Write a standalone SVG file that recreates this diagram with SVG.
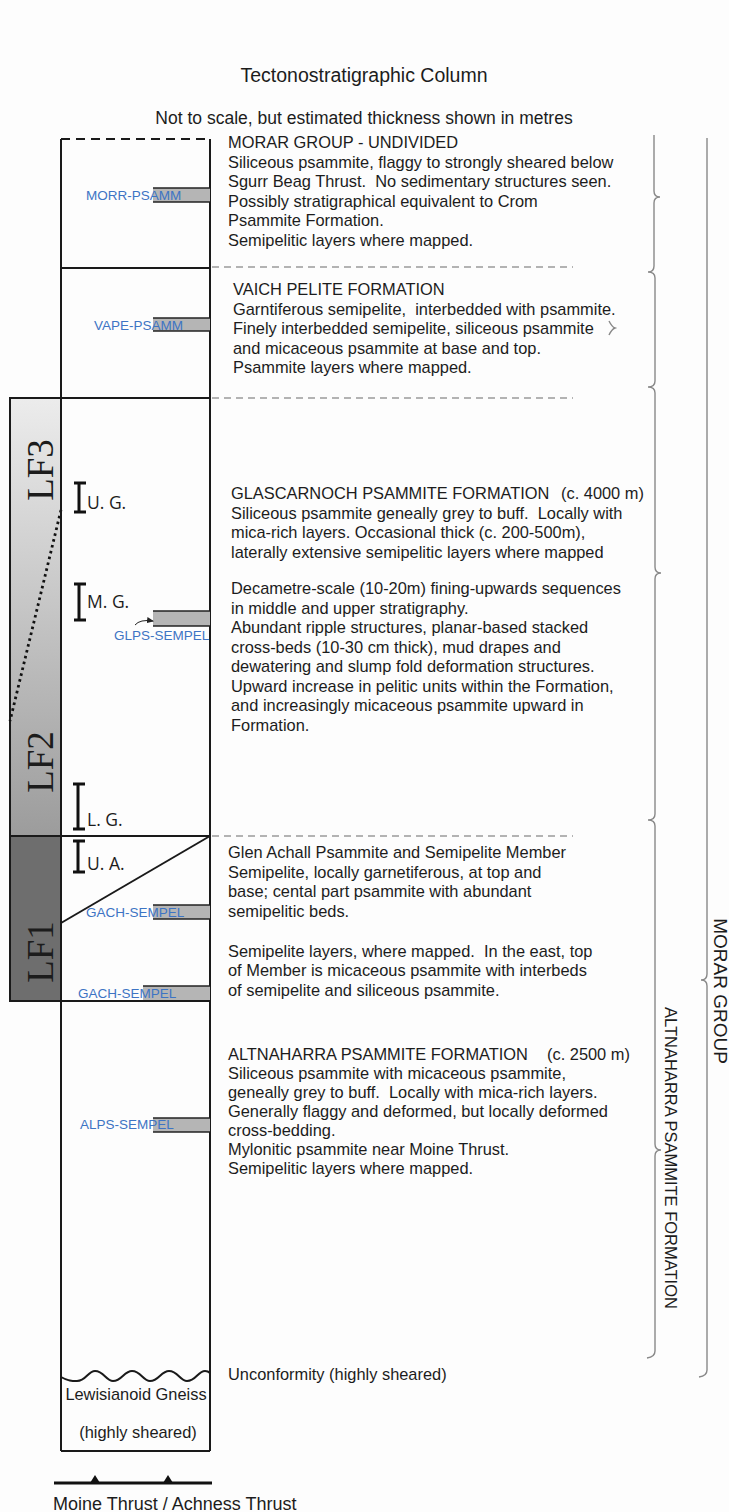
<svg xmlns="http://www.w3.org/2000/svg" width="729" height="1512" viewBox="0 0 729 1512">
<defs>
<linearGradient id="lfg" x1="0" y1="0" x2="0" y2="1">
<stop offset="0" stop-color="#ececec"/>
<stop offset="1" stop-color="#9c9c9c"/>
</linearGradient>
<marker id="ah" markerWidth="8" markerHeight="8" refX="6" refY="4" orient="auto" markerUnits="userSpaceOnUse">
<path d="M0,1 L7,4 L0,7 Z" fill="#222"/>
</marker>
</defs>
<style>
text{font-family:"Liberation Sans",Arial,sans-serif;fill:#1c1c1c}
.body{font-size:16.4px}
.lbl{font-size:13.5px;fill:#3d74c4}
.lf{font-family:"Liberation Serif","Times New Roman",serif;font-size:37px;fill:#1c1c1c}
.ib{font-family:"Open Sans","Noto Sans",sans-serif;font-size:17.5px;fill:#1c1c1c}
.col{stroke:#1a1a1a;stroke-width:2;fill:none}
.gd{stroke:#9a9a9a;stroke-width:1.3;stroke-dasharray:7,5;fill:none}
.bar{fill:#b5b5b5}
.barl{stroke:#222;stroke-width:1.6}
.brace{stroke:#888;stroke-width:1.4;fill:none}
.ibar{stroke:#111;stroke-width:3;fill:none}
</style>
<rect width="729" height="1512" fill="#fdfdfd"/>

<g id="title">
<text x="364" y="82" text-anchor="middle" style="font-size:19.5px">Tectonostratigraphic Column</text>
<text x="364" y="124" text-anchor="middle" style="font-size:17.5px">Not to scale, but estimated thickness shown in metres</text>
</g>

<g id="lf-column">
<rect x="10" y="398" width="51" height="438" fill="url(#lfg)" stroke="#1a1a1a" stroke-width="2"/>
<rect x="10" y="836" width="51" height="165" fill="#6e6e6e" stroke="#1a1a1a" stroke-width="2"/>
<line x1="61" y1="510" x2="10" y2="721" stroke="#111" stroke-width="2.8" stroke-dasharray="2.6,3.4"/>
<text class="lf" transform="translate(53,470) rotate(-90)" text-anchor="middle">LF3</text>
<text class="lf" transform="translate(53,762) rotate(-90)" text-anchor="middle">LF2</text>
<text class="lf" transform="translate(53,952) rotate(-90)" text-anchor="middle">LF1</text>
</g>

<g id="column">
<line x1="61" y1="139" x2="210" y2="139" stroke="#1a1a1a" stroke-width="2" stroke-dasharray="9,6"/>
<line class="col" x1="61" y1="139" x2="61" y2="1451"/>
<line class="col" x1="210" y1="139" x2="210" y2="1451"/>
<line class="col" x1="61" y1="268" x2="210" y2="268"/>
<line class="col" x1="61" y1="398" x2="210" y2="398"/>
<line class="col" x1="61" y1="836" x2="210" y2="836"/>
<line class="col" x1="210" y1="836" x2="61" y2="923"/>
<line class="col" x1="61" y1="1001" x2="210" y2="1001"/>
<line class="col" x1="61" y1="1451" x2="210" y2="1451"/>
<path class="col" stroke-width="1.5" d="M61,1377 C68,1381 72,1381 77,1381 C86,1381 88,1371 95,1371 C104,1371 106,1381 113,1381 C122,1381 124,1371 132,1371 C141,1371 143,1381 150,1381 C159,1381 161,1371 169,1371 C178,1371 180,1381 187,1381 C196,1381 198,1371 205,1371 C207,1371 209,1372 210,1373"/>
<text x="136" y="1400" text-anchor="middle" class="body">Lewisianoid Gneiss</text>
<text x="138" y="1438" text-anchor="middle" class="body">(highly sheared)</text>
</g>

<g id="thrust">
<line x1="54" y1="1483" x2="212" y2="1483" stroke="#111" stroke-width="3"/>
<path d="M90,1483 L95,1475 L100,1483 Z M163,1483 L168,1475 L173,1483 Z" fill="#111"/>
<text x="53" y="1510" style="font-size:18px">Moine Thrust / Achness Thrust</text>
</g>

<g id="ibars">
<path class="ibar" d="M74,483 H86 M79,483 V512 M74,512 H86"/>
<text class="ib" x="87" y="509">U. G.</text>
<path class="ibar" d="M74,584 H86 M79,584 V620 M74,620 H86"/>
<text class="ib" x="87" y="608">M. G.</text>
<path class="ibar" d="M73,784 H85 M78,784 V829 M73,829 H85"/>
<text class="ib" x="87" y="826">L. G.</text>
<path class="ibar" d="M73,841 H85 M78,841 V872 M73,872 H85"/>
<text class="ib" x="87" y="870">U. A.</text>
</g>

<g id="samples">
<g id="morr">
<rect class="bar" x="153" y="188" width="57" height="14"/>
<line class="barl" x1="153" y1="188" x2="210" y2="188"/><line class="barl" x1="153" y1="202" x2="210" y2="202"/>
<text class="lbl" x="86" y="200">MORR-PSAMM</text>
</g>
<g id="vape">
<rect class="bar" x="153" y="318" width="57" height="13"/>
<line class="barl" x1="153" y1="318" x2="210" y2="318"/><line class="barl" x1="153" y1="331" x2="210" y2="331"/>
<text class="lbl" x="94" y="330">VAPE-PSAMM</text>
</g>
<g id="glps">
<rect class="bar" x="153" y="611" width="57" height="15"/>
<line class="barl" x1="153" y1="611" x2="210" y2="611"/><line class="barl" x1="153" y1="626" x2="210" y2="626"/>
<text class="lbl" x="114" y="640">GLPS-SEMPEL</text>
</g>
<g id="gach1">
<rect class="bar" x="153" y="905" width="57" height="14"/>
<line class="barl" x1="153" y1="905" x2="210" y2="905"/><line class="barl" x1="153" y1="919" x2="210" y2="919"/>
<text class="lbl" x="86" y="917">GACH-SEMPEL</text>
</g>
<g id="gach2">
<rect class="bar" x="143" y="986" width="67" height="14"/>
<line class="barl" x1="143" y1="986" x2="210" y2="986"/>
<text class="lbl" x="78" y="998">GACH-SEMPEL</text>
</g>
<g id="alps">
<rect class="bar" x="153" y="1118" width="57" height="14"/>
<line class="barl" x1="153" y1="1118" x2="210" y2="1118"/><line class="barl" x1="153" y1="1132" x2="210" y2="1132"/>
<text class="lbl" x="80" y="1129">ALPS-SEMPEL</text>
</g>
</g>

<g id="connectors">
<path d="M135,625 Q140,619 153,621" fill="none" stroke="#222" stroke-width="1" marker-end="url(#ah)"/>
<line class="gd" x1="212" y1="267" x2="573" y2="267"/>
<line class="gd" x1="212" y1="398" x2="573" y2="398"/>
<line class="gd" x1="212" y1="836" x2="573" y2="836"/>
</g>

<g id="morar-text" class="body">
<text x="228" y="148">MORAR GROUP - UNDIVIDED</text>
<text x="228" y="167.5">Siliceous psammite, flaggy to strongly sheared below</text>
<text x="228" y="187" xml:space="preserve">Sgurr Beag Thrust.  No sedimentary structures seen.</text>
<text x="228" y="206.5">Possibly stratigraphical equivalent to Crom</text>
<text x="228" y="226">Psammite Formation.</text>
<text x="228" y="245.5">Semipelitic layers where mapped.</text>
</g>

<g id="vaich-text" class="body">
<text x="233" y="295">VAICH PELITE FORMATION</text>
<text x="233" y="314.5" xml:space="preserve">Garntiferous semipelite,  interbedded with psammite.</text>
<text x="233" y="334">Finely interbedded semipelite, siliceous psammite</text>
<text x="233" y="353.5">and micaceous psammite at base and top.</text>
<text x="233" y="373">Psammite layers where mapped.</text>
</g>

<g id="glascarnoch-text" class="body">
<text x="231" y="499">GLASCARNOCH PSAMMITE FORMATION<tspan x="561">(c. 4000 m)</tspan></text>
<text x="231" y="518.5" xml:space="preserve">Siliceous psammite geneally grey to buff.  Locally with</text>
<text x="231" y="538">mica-rich layers. Occasional thick (c. 200-500m),</text>
<text x="231" y="557.5">laterally extensive semipelitic layers where mapped</text>
<text x="231" y="594">Decametre-scale (10-20m) fining-upwards sequences</text>
<text x="231" y="613.5">in middle and upper stratigraphy.</text>
<text x="231" y="633">Abundant ripple structures, planar-based stacked</text>
<text x="231" y="652.5">cross-beds (10-30 cm thick), mud drapes and</text>
<text x="231" y="672">dewatering and slump fold deformation structures.</text>
<text x="231" y="691.5">Upward increase in pelitic units within the Formation,</text>
<text x="231" y="711">and increasingly micaceous psammite upward in</text>
<text x="231" y="730.5">Formation.</text>
</g>

<g id="glenachall-text" class="body">
<text x="228" y="858">Glen Achall Psammite and Semipelite Member</text>
<text x="228" y="877.5">Semipelite, locally garnetiferous, at top and</text>
<text x="228" y="897">base; cental part psammite with abundant</text>
<text x="228" y="916.5">semipelitic beds.</text>
<text x="228" y="956.5" xml:space="preserve">Semipelite layers, where mapped.  In the east, top</text>
<text x="228" y="976">of Member is micaceous psammite with interbeds</text>
<text x="228" y="995.5">of semipelite and siliceous psammite.</text>
</g>

<g id="altnaharra-text" class="body">
<text x="228" y="1060">ALTNAHARRA PSAMMITE FORMATION<tspan x="547">(c. 2500 m)</tspan></text>
<text x="228" y="1079">Siliceous psammite with micaceous psammite,</text>
<text x="228" y="1098" xml:space="preserve">geneally grey to buff.  Locally with mica-rich layers.</text>
<text x="228" y="1117">Generally flaggy and deformed, but locally deformed</text>
<text x="228" y="1136">cross-bedding.</text>
<text x="228" y="1155">Mylonitic psammite near Moine Thrust.</text>
<text x="228" y="1174">Semipelitic layers where mapped.</text>
<text x="228" y="1380">Unconformity (highly sheared)</text>
</g>

<g id="braces">
<path class="brace" d="M654,135 V191 Q654,197 660,197 Q654,197 654,203 V266 Q654,272 648,272 Q655,272 655,278 V381 Q655,387 648,387 Q655,387 655,393 V567 Q655,573 661,573 Q655,573 655,579 V814 Q655,820 648,820 Q655,820 655,826 V1144 Q655,1150 661,1150 Q655,1150 655,1156 V1351 Q655,1357 647,1358"/>
<path class="brace" d="M609,321 Q612,327 615,328 Q612,329 609,335"/>
<path class="brace" d="M707,138 V974 Q707,980 701,980 Q707,980 707,986 V1370 Q707,1376 699,1377"/>
<text transform="translate(665,1007) rotate(90)" style="font-size:16.5px">ALTNAHARRA PSAMMITE FORMATION</text>
<text transform="translate(714,991) rotate(90)" text-anchor="middle" style="font-size:19px">MORAR GROUP</text>
</g>
</svg>
